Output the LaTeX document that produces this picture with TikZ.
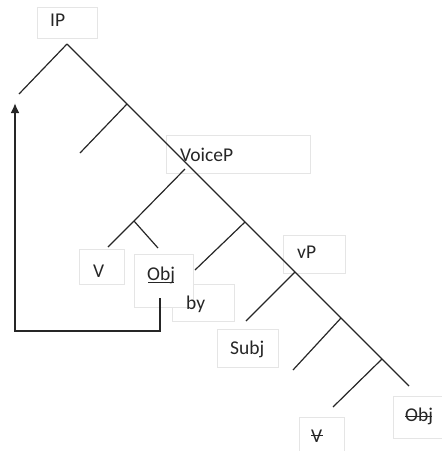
\documentclass[tikz,border=0pt]{standalone}
\usepackage{fontspec}
\setmainfont{Carlito}
\usetikzlibrary{arrows.meta}
\begin{document}
\begin{tikzpicture}[x=1pt,y=-1pt,
  lbl/.style={anchor=base west,inner sep=0pt,font=\fontsize{19.5}{22}\selectfont,text=black!85},
  frame/.style={draw=black!10,line width=0.6pt},
  branch/.style={draw=black!85,line width=1.2pt},
  mover/.style={draw=black!85,line width=2pt}]
\useasboundingbox (0,0) rectangle (442,451);
% faint label frames
\draw[frame] (37,7) rectangle (97,38);
\draw[frame] (166,135) rectangle (310,173);
\draw[frame] (283,235) rectangle (345,273);
\draw[frame] (79,249) rectangle (124,284);
\draw[frame] (172,284) rectangle (234,321);
\draw[fill=white,frame] (134,254) rectangle (193,307);
\draw[frame] (217,329) rectangle (278,367);
\draw[frame] (299,417) rectangle (344,460);
\draw[frame] (393,396) rectangle (445,438);
% labels
\node[lbl] (ip) at (50,26) {IP};
\node[lbl] (voicep) at (180,161) {VoiceP};
\node[lbl] (vp) at (297,258) {vP};
\node[lbl] (v1) at (93,277) {V};
\node[lbl] (obj1) at (147,280) {Obj};
\node[lbl] (by) at (186,309) {by};
\node[lbl] (subj) at (230,354) {Subj};
\node[lbl] (v2) at (311,442) {V};
\node[lbl] (obj2) at (405,421) {Obj};
\draw[draw=black!85,line width=0.8pt] (148,282.5) -- (174,282.5);
\draw[draw=black!85,line width=0.8pt] (311,435) -- (323,435);
\draw[draw=black!85,line width=0.8pt] (405,416) -- (432,416);
% tree
\coordinate (t0) at (67,44);
\coordinate (t1) at (127,104);
\coordinate (t2) at (245,222);
\coordinate (t3) at (295,272);
\coordinate (t4) at (341,318);
\coordinate (t5) at (382,359);
\coordinate (tend) at (409,386);
\coordinate (l0) at (19,94);
\coordinate (l1) at (80,153);
\coordinate (vb) at (185,169);
\coordinate (vv) at (134,221);
\coordinate (vl) at (108,247);
\coordinate (vr) at (158,248);
\coordinate (l2) at (195,270);
\coordinate (l3) at (246,321);
\coordinate (l4) at (293,370);
\coordinate (l5) at (333,407);
\draw[branch] (t0) -- (tend);
\draw[branch] (t0) -- (l0);
\draw[branch] (t1) -- (l1);
\draw[branch] (vb) -- (vv);
\draw[branch] (vv) -- (vl);
\draw[branch] (vv) -- (vr);
\draw[branch] (t2) -- (l2);
\draw[branch] (t3) -- (l3);
\draw[branch] (t4) -- (l4);
\draw[branch] (t5) -- (l5);
% movement arrow
\coordinate (m0) at (160,298);
\coordinate (m1) at (160,331);
\coordinate (m2) at (15,331);
\coordinate (m3) at (15,103);
\draw[mover,-{Latex[length=10pt,width=9pt]}] (m0) -- (m1) -- (m2) -- (m3);
\end{tikzpicture}
\end{document}
